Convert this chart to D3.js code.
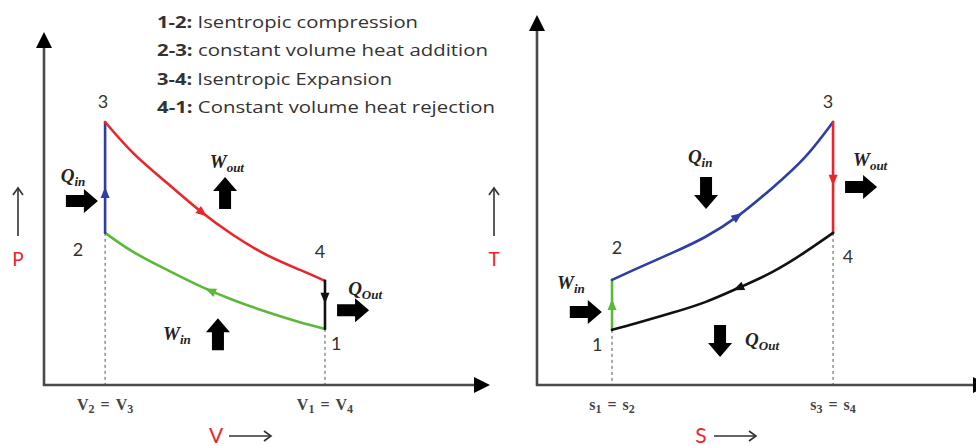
<!DOCTYPE html>
<html>
<head>
<meta charset="utf-8">
<script src="https://cdn.jsdelivr.net/npm/d3@7"></script>
<style>
  body { margin: 0; background: #fff; }
  svg { display: block; }
</style>
</head>
<body>
<svg id="chart" width="976" height="446"></svg>
<script>
// ---------- data ----------
const legendKeys = ['1-2:', '2-3:', '3-4:', '4-1:'];
const legendTexts = [
  'Isentropic compression',
  'constant volume heat addition',
  'Isentropic Expansion',
  'Constant volume heat rejection'
];

// P-V diagram, states 1..4 (arbitrary units)
const pvStateV = [6.30, 1.37, 1.37, 6.30];
const pvStateP = [1.59, 4.31, 7.45, 2.95];
// 3 -> 4 expansion curve
const pvExpV = [1.37, 2.00, 2.76, 3.50, 4.24, 5.00, 5.74, 6.30];
const pvExpP = [7.45, 6.57, 5.72, 4.93, 4.25, 3.68, 3.26, 2.95];
// 1 -> 2 compression curve
const pvCompV = [6.30, 5.74, 5.00, 4.24, 3.50, 2.76, 2.00, 1.37];
const pvCompP = [1.59, 1.78, 2.07, 2.41, 2.80, 3.26, 3.77, 4.31];

// T-S diagram, states 1..4
const tsStateS = [1.66, 1.66, 6.55, 6.55];
const tsStateT = [1.49, 2.84, 7.11, 4.11];
// 2 -> 3 heat addition curve
const tsAddS = [1.66, 2.23, 2.99, 3.72, 4.45, 5.20, 5.93, 6.55];
const tsAddT = [2.84, 3.16, 3.57, 4.00, 4.57, 5.32, 6.16, 7.11];
// 4 -> 1 heat rejection curve
const tsRejS = [6.55, 5.93, 5.20, 4.45, 3.72, 2.99, 2.23, 1.66];
const tsRejT = [4.11, 3.59, 3.05, 2.62, 2.24, 1.95, 1.68, 1.49];

const stateNames = ['1', '2', '3', '4'];
const pvNumX = [6.55, 0.76, 1.32, 6.19];
const pvNumY = [0.99, 3.65, 7.85, 3.60];
const tsNumX = [1.33, 1.77, 6.44, 6.88];
const tsNumY = [0.92, 3.54, 7.49, 3.30];

// energy annotations: [main, sub]
const pvAnnoText = [['Q', 'in'], ['W', 'out'], ['W', 'in'], ['Q', 'Out']];
const pvAnnoX = [0.65, 4.10, 2.98, 7.20];
const pvAnnoY = [5.75, 6.15, 1.27, 2.55];
const pvBlockX = [0.85, 4.06, 3.90, 6.93];
const pvBlockY = [5.21, 5.44, 1.44, 2.12];
const pvBlockDir = [0, -90, -90, 0];

const tsAnnoText = [['Q', 'in'], ['W', 'out'], ['W', 'in'], ['Q', 'Out']];
const tsAnnoX = [3.61, 7.37, 0.75, 4.98];
const tsAnnoY = [6.00, 5.92, 2.59, 1.05];
const tsBlockX = [3.74, 7.17, 1.08, 4.05];
const tsBlockY = [5.19, 5.35, 1.97, 1.19];
const tsBlockDir = [90, 0, 0, 90];

const pvTicks = [[1.37, 'V', '2', 'V', '3'], [6.30, 'V', '1', 'V', '4']];
const tsTicks = [[1.66, 's', '1', 's', '2'], [6.55, 's', '3', 's', '4']];

// ---------- setup ----------
const svg = d3.select('#chart');
const C = {
  red: '#e8262b', blue: '#2f3da6', green: '#5cb83a', black: '#111',
  axis: '#4a4a4a', text: '#333'
};

const pv = {
  x: d3.scaleLinear().domain([0, 10]).range([44, 490]),
  y: d3.scaleLinear().domain([0, 10]).range([385, 32])
};
const ts = {
  x: d3.scaleLinear().domain([0, 10]).range([537, 989]),
  y: d3.scaleLinear().domain([0, 10]).range([385, 15])
};

const line = sc => d3.line()
  .x(d => sc.x(d[0]))
  .y(d => sc.y(d[1]))
  .curve(d3.curveNatural);

const zip = (a, b) => a.map((v, i) => [v, b[i]]);

// ---------- legend ----------
const legendWidths = [261, 331, 235, 338];
const legend = svg.append('g')
  .style('font-family', '"Open Sans", Lato, sans-serif')
  .style('font-size', '16.5px')
  .attr('fill', C.text);
legendKeys.forEach((k, i) => {
  const t = legend.append('text')
    .attr('x', 157).attr('y', 28 + i * 28.3)
    .attr('textLength', legendWidths[i])
    .attr('lengthAdjust', 'spacingAndGlyphs');
  t.append('tspan').attr('font-weight', 'bold').text(k);
  t.append('tspan').text(' ' + legendTexts[i]);
});

// ---------- helpers ----------
function drawAxes(sc, tipY, tipX) {
  const g = svg.append('g');
  const x0 = sc.x(0), y0 = sc.y(0);
  g.append('line')
    .attr('x1', x0).attr('y1', y0 + 1).attr('x2', x0).attr('y2', tipY + 12)
    .attr('stroke', C.axis).attr('stroke-width', 2.6);
  g.append('line')
    .attr('x1', x0 - 1).attr('y1', y0).attr('x2', tipX - 12).attr('y2', y0)
    .attr('stroke', C.axis).attr('stroke-width', 2.6);
  g.append('path')
    .attr('d', `M${x0},${tipY} L${x0 - 8},${tipY + 16} L${x0 + 8},${tipY + 16} Z`)
    .attr('fill', '#000');
  g.append('path')
    .attr('d', `M${tipX},${y0} L${tipX - 16},${y0 - 8} L${tipX - 16},${y0 + 8} Z`)
    .attr('fill', '#000');
}

function drawProcess(sc, pts, color, at) {
  const p = svg.append('path')
    .attr('d', line(sc)(pts))
    .attr('fill', 'none')
    .attr('stroke', color)
    .attr('stroke-width', 2.6)
    .attr('stroke-linecap', 'round');
  const node = p.node();
  const L = node.getTotalLength();
  const a = node.getPointAtLength(L * at);
  const b = node.getPointAtLength(Math.min(L, L * at + 1));
  const ang = Math.atan2(b.y - a.y, b.x - a.x) * 180 / Math.PI;
  svg.append('path')
    .attr('d', 'M6,0 L-5,-4.5 L-5,4.5 Z')
    .attr('fill', color)
    .attr('transform', `translate(${a.x},${a.y}) rotate(${ang})`);
}

function drawDashed(sc, xv, yv) {
  svg.append('line')
    .attr('x1', sc.x(xv)).attr('x2', sc.x(xv))
    .attr('y1', sc.y(yv)).attr('y2', sc.y(0))
    .attr('stroke', '#555').attr('stroke-width', 1)
    .attr('stroke-dasharray', '3,3');
}

function blockArrow(sc, xv, yv, dir) {
  svg.append('path')
    .attr('d', 'M-16,-6 L2,-6 L2,-12 L16,0 L2,12 L2,6 L-16,6 Z')
    .attr('fill', '#000')
    .attr('transform', `translate(${sc.x(xv)},${sc.y(yv)}) rotate(${dir})`);
}

function mathLabel(sc, xv, yv, main, sub) {
  const t = svg.append('text')
    .attr('x', sc.x(xv)).attr('y', sc.y(yv))
    .attr('text-anchor', 'middle')
    .style('font-family', '"Liberation Serif", "DejaVu Serif", serif')
    .style('font-weight', 'bold')
    .style('font-style', 'italic')
    .attr('fill', '#222');
  t.append('tspan').style('font-size', '19px').text(main);
  t.append('tspan').style('font-size', '13px').attr('dy', 4).text(sub);
}

function stateNumbers(sc, xs, ys) {
  stateNames.forEach((n, i) => {
    svg.append('text')
      .attr('x', sc.x(xs[i])).attr('y', sc.y(ys[i]))
      .attr('text-anchor', 'middle')
      .style('font-family', 'Lato, "Open Sans", sans-serif')
      .style('font-size', '18px')
      .attr('fill', C.text)
      .text(n);
  });
}

function tickLabels(sc, ticks) {
  ticks.forEach(([v, a, ai, b, bi]) => {
    const t = svg.append('text')
      .attr('x', sc.x(v)).attr('y', 410)
      .attr('text-anchor', 'middle')
      .style('font-family', '"Liberation Serif", "DejaVu Serif", serif')
      .style('font-weight', 'bold')
      .style('font-size', '16px')
      .attr('fill', '#444');
    t.append('tspan').text(a);
    t.append('tspan').attr('dy', 3).style('font-size', '12px').text(ai);
    t.append('tspan').attr('dy', -3).attr('dx', 6).text('=');
    t.append('tspan').attr('dx', 6).text(b);
    t.append('tspan').attr('dy', 3).style('font-size', '12px').text(bi);
  });
}

function axisTitle(xLetter, xPos, yLetter, yPos) {
  // horizontal title with long arrow
  svg.append('text')
    .attr('x', xPos).attr('y', 443)
    .attr('text-anchor', 'middle')
    .style('font-family', 'Lato, "Open Sans", sans-serif')
    .style('font-size', '21px')
    .attr('fill', C.red)
    .text(xLetter);
  svg.append('line')
    .attr('x1', xPos + 13).attr('x2', xPos + 54)
    .attr('y1', 436).attr('y2', 436)
    .attr('stroke', '#333').attr('stroke-width', 1.6);
  svg.append('path')
    .attr('d', `M${xPos + 48},${431} L${xPos + 55},${436} L${xPos + 48},${441}`)
    .attr('fill', 'none').attr('stroke', '#333').attr('stroke-width', 1.6);
  // vertical title with arrow above
  svg.append('line')
    .attr('x1', yPos).attr('x2', yPos)
    .attr('y1', 236).attr('y2', 188)
    .attr('stroke', '#333').attr('stroke-width', 1.6);
  svg.append('path')
    .attr('d', `M${yPos - 5},${195} L${yPos},${188} L${yPos + 5},${195}`)
    .attr('fill', 'none').attr('stroke', '#333').attr('stroke-width', 1.6);
  svg.append('text')
    .attr('x', yPos).attr('y', 266)
    .attr('text-anchor', 'middle')
    .style('font-family', 'Lato, "Open Sans", sans-serif')
    .style('font-size', '19px')
    .attr('fill', C.red)
    .text(yLetter);
}

// ---------- P-V diagram ----------
drawAxes(pv, 32, 490);
drawDashed(pv, pvStateV[1], pvStateP[1]);
drawDashed(pv, pvStateV[0], pvStateP[0]);
drawProcess(pv, zip(pvCompV, pvCompP), C.green, 0.5);
drawProcess(pv, [[pvStateV[1], pvStateP[1]], [pvStateV[2], pvStateP[2]]], C.blue, 0.36);
drawProcess(pv, zip(pvExpV, pvExpP), C.red, 0.485);
drawProcess(pv, [[pvStateV[3], pvStateP[3]], [pvStateV[0], pvStateP[0]]], C.black, 0.35);
stateNumbers(pv, pvNumX, pvNumY);
pvAnnoText.forEach((d, i) => mathLabel(pv, pvAnnoX[i], pvAnnoY[i], d[0], d[1]));
pvBlockX.forEach((v, i) => blockArrow(pv, v, pvBlockY[i], pvBlockDir[i]));
tickLabels(pv, pvTicks);
axisTitle('V', 216, 'P', 18);

// ---------- T-S diagram ----------
drawAxes(ts, 15, 989);
drawDashed(ts, tsStateS[0], tsStateT[0]);
drawDashed(ts, tsStateS[3], tsStateT[3]);
drawProcess(ts, [[tsStateS[0], tsStateT[0]], [tsStateS[1], tsStateT[1]]], C.green, 0.5);
drawProcess(ts, zip(tsAddS, tsAddT), C.blue, 0.51);
drawProcess(ts, [[tsStateS[2], tsStateT[2]], [tsStateS[3], tsStateT[3]]], C.red, 0.52);
drawProcess(ts, zip(tsRejS, tsRejT), C.black, 0.45);
stateNumbers(ts, tsNumX, tsNumY);
tsAnnoText.forEach((d, i) => mathLabel(ts, tsAnnoX[i], tsAnnoY[i], d[0], d[1]));
tsBlockX.forEach((v, i) => blockArrow(ts, v, tsBlockY[i], tsBlockDir[i]));
tickLabels(ts, tsTicks);
axisTitle('S', 701, 'T', 494);
</script>
</body>
</html>
